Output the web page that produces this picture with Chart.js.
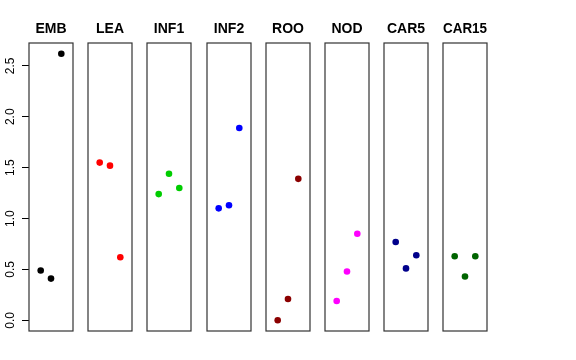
<!DOCTYPE html>
<html lang="en">
<head>
  <meta charset="UTF-8">
  <title>Strip plots</title>
  <script src="https://cdn.jsdelivr.net/npm/chart.js"></script>
  <style>
    body { margin: 0; background: #fff; }
    #wrap { position: relative; width: 576px; height: 360px; overflow: hidden; }
    #wrap canvas { position: absolute; top: 0; }
  </style>
</head>
<body>
  <div id="wrap"></div>

  <script>
    const grupos = ['EMB', 'LEA', 'INF1', 'INF2', 'ROO', 'NOD', 'CAR5', 'CAR15'];
    const colores = ['#000000', '#ff0000', '#00cd00', '#0000ff', '#8b0000', '#ff00ff', '#00008b', '#006400'];
    const replicas = [1, 2, 3];
    const emb = [0.49, 0.41, 2.62];
    const lea = [1.55, 1.52, 0.62];
    const inf1 = [1.24, 1.44, 1.30];
    const inf2 = [1.10, 1.13, 1.89];
    const roo = [0.00, 0.21, 1.39];
    const nod = [0.19, 0.48, 0.85];
    const car5 = [0.77, 0.51, 0.64];
    const car15 = [0.63, 0.43, 0.63];
    const valores = [emb, lea, inf1, inf2, roo, nod, car5, car15];
    const yTicks = [0, 0.5, 1, 1.5, 2, 2.5];

    const fuente = '"Liberation Sans", Arial, Helvetica, sans-serif';
    const wrap = document.getElementById('wrap');

    // caja alrededor de cada panel
    const caja = {
      id: 'caja',
      afterDraw(chart) {
        const a = chart.chartArea;
        const ctx = chart.ctx;
        ctx.save();
        ctx.strokeStyle = '#333';
        ctx.lineWidth = 1.2;
        ctx.strokeRect(Math.round(a.left), Math.round(a.top), Math.round(a.right - a.left), Math.round(a.bottom - a.top));
        ctx.restore();
      }
    };

    grupos.forEach((g, i) => {
      const panelLeft = Math.round(29 + i * 59.2);
      const primero = i === 0;
      const pad = 10;
      const left = primero ? 0 : panelLeft - pad;
      const width = primero ? 102 : 44 + 2 * pad;

      const canvas = document.createElement('canvas');
      canvas.width = width;
      canvas.height = 360;
      canvas.style.left = left + 'px';
      canvas.style.width = width + 'px';
      canvas.style.height = '360px';
      wrap.appendChild(canvas);

      new Chart(canvas, {
        type: 'scatter',
        data: {
          datasets: [{
            data: replicas.map((r, k) => ({ x: r, y: valores[i][k] })),
            backgroundColor: colores[i],
            borderWidth: 0,
            pointRadius: 3.3,
            pointHoverRadius: 3.3
          }]
        },
        options: {
          responsive: false,
          animation: false,
          devicePixelRatio: 1,
          layout: { padding: { top: 0, bottom: 29, left: primero ? 0 : pad, right: primero ? 29 : pad } },
          scales: {
            x: { type: 'linear', min: -0.135, max: 4.135, display: false },
            y: {
              type: 'linear',
              min: -0.105,
              max: 2.725,
              display: primero,
              afterFit(scale) { if (primero) scale.width = 29; },
              afterBuildTicks(scale) { scale.ticks = yTicks.map(v => ({ value: v })); },
              border: { display: false },
              grid: { drawOnChartArea: false, tickLength: 7, color: '#000', tickColor: '#000' },
              ticks: {
                minRotation: 90,
                maxRotation: 90,
                crossAlign: 'center',
                padding: 3,
                color: '#000',
                font: { family: fuente, size: 12 },
                callback: v => v.toFixed(1)
              }
            }
          },
          plugins: {
            legend: { display: false },
            tooltip: { enabled: false },
            title: {
              display: true,
              fullSize: false,
              text: g,
              color: '#000',
              font: { family: fuente, size: 14, weight: 'bold' },
              padding: { top: 20.6, bottom: 5.6 }
            }
          }
        },
        plugins: [caja]
      });
    });
  </script>
</body>
</html>
